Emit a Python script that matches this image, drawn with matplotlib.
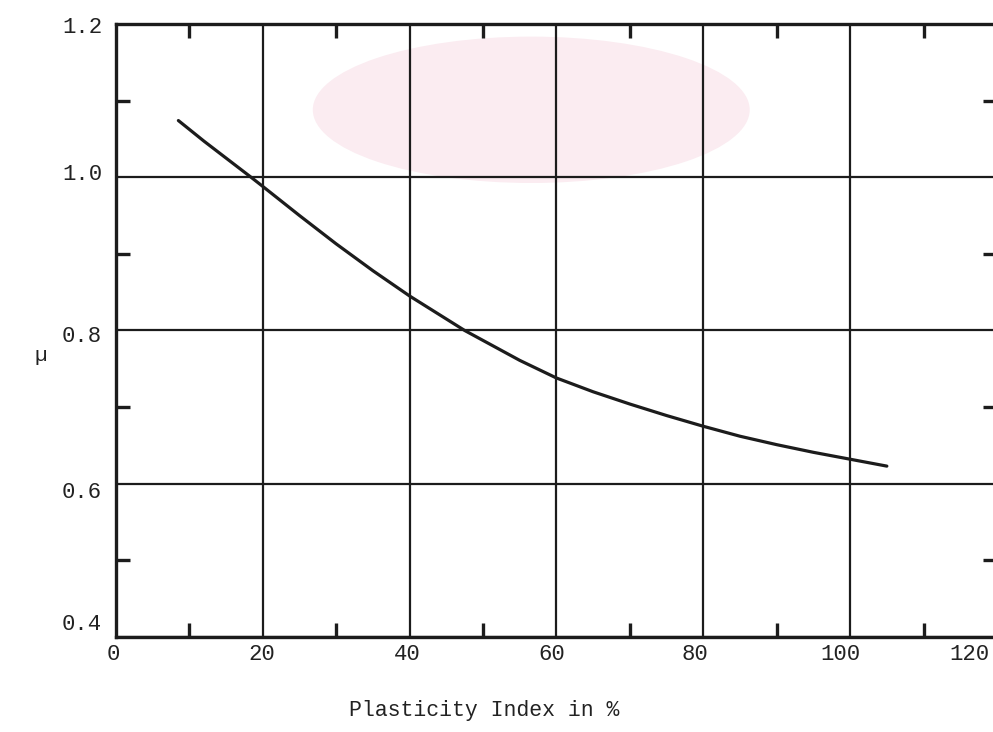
import matplotlib
matplotlib.use("Agg")
import matplotlib.pyplot as plt
import matplotlib.transforms as mtransforms
from matplotlib.patches import Ellipse

# Data
plasticity_index = [8.5, 12, 18.4, 20, 25, 30, 35, 40, 45, 47.5, 50, 55, 60,
                    65, 70, 75, 80, 85, 90, 95, 100, 105]
mu_values = [1.074, 1.047, 1.0, 0.988, 0.950, 0.913, 0.878, 0.845, 0.815, 0.800,
             0.787, 0.761, 0.738, 0.720, 0.704, 0.689, 0.675, 0.662, 0.651, 0.641,
             0.632, 0.623]
x_major = [0, 20, 40, 60, 80, 100, 120]
x_minor = [10, 30, 50, 70, 90, 110]
y_major = [0.4, 0.6, 0.8, 1.0, 1.2]
y_minor = [0.5, 0.7, 0.9, 1.1]
y_labels = ["0.4", "0.6", "0.8", "1.0", "1.2"]
x_labels = ["0", "20", "40", "60", "80", "100", "120"]
x_label_shift_px = [-3, -1, -2, -5, -8, -10, -28]
y_label_shift_px = [15, -6, -4, 5, -1]

mono = "Liberation Mono"
ink = "#1c1c1c"
fig = plt.figure(figsize=(9.93, 7.32), dpi=100)

# faint watermark emblem behind the chart
fig.patches.append(Ellipse((0.535, 0.85), 0.44, 0.20, transform=fig.transFigure,
                           facecolor="#fbecf1", edgecolor="none", zorder=-5))

ax = fig.add_axes([0.1168, 0.1298, 0.8872, 0.8374])
ax.set_facecolor("none")
ax.plot(plasticity_index, mu_values, color=ink, lw=2.3, solid_capstyle="round",
        solid_joinstyle="round", zorder=3)

ax.set_xlim(0, 120)
ax.set_ylim(0.4, 1.2)
ax.set_xticks(x_major)
ax.set_xticklabels(x_labels, family=mono, fontsize=16, color="#222222")
ax.set_yticks(y_major)
ax.set_yticklabels(y_labels, family=mono, fontsize=16, color="#222222")
ax.set_xticks(x_minor, minor=True)
ax.set_yticks(y_minor, minor=True)
ax.tick_params(which="major", length=0)
ax.tick_params(axis="x", which="major", pad=5)
ax.tick_params(axis="y", which="major", pad=10)
ax.tick_params(which="minor", direction="in", length=10, width=2.4, color=ink,
               top=True, right=True, bottom=True, left=True)
ax.grid(True, which="major", color=ink, lw=1.6)
for s in ax.spines.values():
    s.set_linewidth(2.4)
    s.set_color(ink)

for lab, dx in zip(ax.get_xticklabels(), x_label_shift_px):
    lab.set_transform(lab.get_transform() +
                      mtransforms.ScaledTranslation(dx / 100, 0, fig.dpi_scale_trans))
for lab, dy in zip(ax.get_yticklabels(), y_label_shift_px):
    lab.set_transform(lab.get_transform() +
                      mtransforms.ScaledTranslation(0, dy / 100, fig.dpi_scale_trans))

fig.text(0.041, 0.515, "µ", family=mono, fontsize=15, ha="center", va="center", color="#222222")
fig.text(0.488, 0.030, "Plasticity Index in %", family=mono, fontsize=15.5,
         ha="center", va="center", color="#222222")

fig.savefig("out.png", dpi=100)
